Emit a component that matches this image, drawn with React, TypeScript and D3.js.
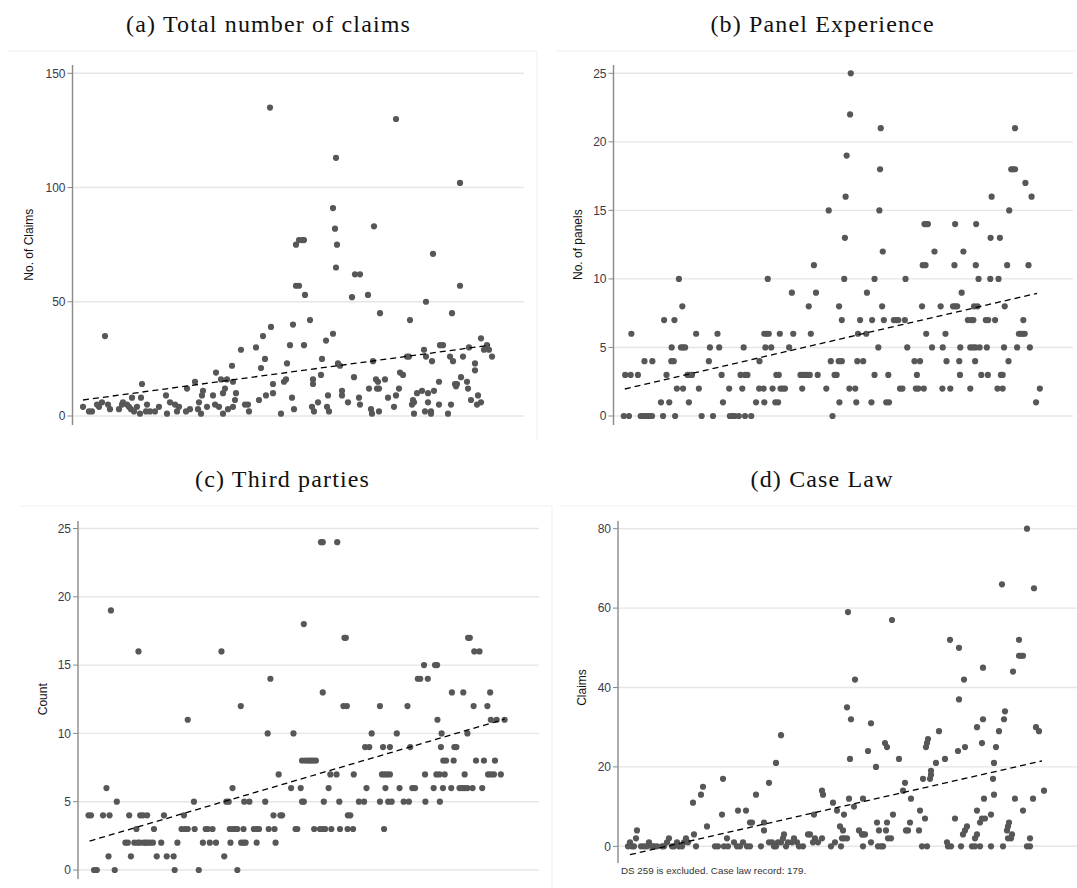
import React from "react";
import * as d3 from "d3";

type Pt = [number, number];

// ---------- (a) Total number of claims ----------
const claimsTicks = [0, 50, 100, 150];
const claimsFit: Pt[] = [[83, 7], [490, 31]];
const claimsPoints: Pt[] = [
  [83,4],[89,2],[92,2],[97,5],[99,4],[102,6],[105,35],[108,5],[110,3],[119,3],[122,5],[123,6],[127,5],[129,4],[131,3],[132,8],[134,2],[137,4],[140,1],[141,8],[142,14],[146,2],[147,5],[150,2],[155,2],[159,4],[166,9],[167,1],[170,6],[175,5],[177,2],[179,4],[186,2],[187,12],[190,3],[195,15],[198,3],[199,6],[201,1],[202,9],[203,11],[207,4],[213,9],[215,5],[216,19],[219,4],[221,16],[223,1],[223,10],[225,12],[227,16],[228,3],[232,22],[233,4],[233,15],[235,7],[236,10],[241,29],[245,5],[248,5],[249,2],[256,30],[259,7],[261,21],[263,35],[265,25],[266,9],[270,135],[271,39],[273,14],[273,10],[281,1],[284,15],[286,16],[287,23],[290,31],[292,8],[293,40],[294,3],[296,75],[296,57],[299,57],[299,77],[302,77],[304,77],[304,31],[305,53],[310,42],[312,4],[313,16],[313,14],[314,2],[318,6],[322,25],[321,18],[326,33],[327,4],[328,9],[329,2],[333,36],[333,91],[335,82],[336,113],[337,75],[336,65],[338,23],[340,22],[342,11],[342,9],[348,6],[352,52],[354,17],[355,62],[360,62],[359,8],[360,5],[368,53],[369,12],[371,3],[372,1],[373,24],[374,83],[376,16],[377,12],[378,15],[379,12],[379,2],[380,45],[385,16],[388,8],[394,4],[396,9],[396,130],[399,12],[400,19],[403,18],[407,26],[409,26],[410,42],[412,5],[413,7],[414,6],[414,1],[417,10],[422,11],[424,29],[426,26],[426,50],[425,2],[428,6],[428,10],[431,2],[431,1],[434,11],[432,24],[433,71],[439,15],[439,5],[440,31],[443,31],[448,1],[450,26],[451,5],[452,45],[453,24],[455,14],[456,13],[457,14],[460,57],[460,102],[461,17],[463,26],[467,15],[468,12],[469,30],[471,7],[475,23],[475,20],[478,9],[477,5],[481,6],[481,34],[484,29],[487,31],[489,29],[492,26]
];

// ---------- (b) Panel Experience ----------
const panelTicks = [0, 5, 10, 15, 20, 25];
const panelFit: Pt[] = [[255, 1.97], [1452, 8.95]];
const panelPoints: Pt[] = [
  [252,0],[267,0],[256,3],[272,3],[274,6],[293,3],[301,0],[308,0],[314,0],[320,0],[327,0],[334,0],[312,4],[335,4],
  [360,1],[366,0],[369,7],[376,3],[384,1],[390,4],[397,4],[391,5],[399,7],[401,0],[406,2],[412,10],[422,8],[418,5],[424,5],[430,5],
  [424,2],[437,3],[443,3],[450,3],[441,1],[462,6],[470,2],[478,0],[499,4],[502,5],[511,0],[524,6],[529,5],[536,3],[540,1],[558,2],
  [560,0],[567,0],[574,0],[586,0],[604,0],[622,0],[591,3],[604,3],[611,3],[596,2],[600,5],[636,1],[646,4],[645,2],[658,2],[660,1],
  [660,6],[667,6],[673,6],[663,5],[670,10],[680,5],[684,2],[692,1],[700,1],[695,3],[702,3],[705,6],[707,2],[714,2],[720,2],
  [732,5],[740,9],[744,6],[765,3],[771,3],[778,3],[785,3],[792,3],[770,2],[789,8],[795,6],[804,11],[810,9],[815,3],
  [840,2],[847,15],[853,4],[858,0],[864,3],[870,3],[876,4],[885,4],[878,1],[877,8],[885,7],[892,10],[894,13],[896,16],[899,19],[909,22],[911,25],
  [907,2],[924,2],[927,1],[930,4],[947,4],[932,6],[938,7],[956,6],[958,9],[971,1],[973,7],[980,10],[980,3],[991,5],
  [994,15],[996,18],[998,21],[1002,8],[1004,12],[1007,7],[1014,1],[1022,1],[1020,3],[1036,7],[1043,7],[1049,7],[1054,2],[1061,2],
  [1068,7],[1070,10],[1075,5],[1096,4],[1112,4],[1103,3],[1100,2],[1107,2],[1118,8],[1123,2],[1120,11],[1128,11],[1125,14],[1130,14],[1135,14],[1130,6],[1147,5],
  [1154,12],[1172,8],[1178,5],[1177,2],[1186,6],[1189,4],[1200,2],[1208,8],[1214,8],[1220,8],[1214,14],[1212,11],[1226,4],[1229,5],[1228,3],[1233,9],[1238,12],
  [1251,7],[1261,7],[1267,7],[1258,2],[1258,5],[1266,5],[1273,5],[1272,4],[1275,14],[1274,11],[1269,8],[1279,8],[1282,10],[1285,5],[1290,3],
  [1303,7],[1310,7],[1306,5],[1309,3],[1317,13],[1316,10],[1320,16],[1330,7],[1337,2],[1352,2],[1340,10],[1344,13],[1347,3],[1352,3],[1356,5],[1358,8],
  [1365,11],[1369,4],[1371,15],[1377,18],[1382,18],[1388,18],[1388,21],[1394,5],[1399,6],[1404,6],[1410,6],[1416,6],[1412,7],[1418,17],
  [1427,11],[1431,5],[1436,16],[1449,1],[1460,2]
];

// ---------- (c) Third parties ----------
const thirdTicks = [0, 5, 10, 15, 20, 25];
const thirdFit: Pt[] = [[263, 2.12], [1468, 11.04]];
const thirdPoints: Pt[] = [
  [260,4],[267,4],[276,0],[284,0],[302,4],[312,6],[318,1],[321,4],[325,19],[336,0],[342,5],
  [367,2],[374,2],[378,4],[383,1],[393,2],[399,3],[403,2],[409,2],[405,16],[410,4],[418,4],[430,4],[420,2],[426,2],[432,2],[440,2],[447,2],[450,3],[458,1],[471,2],[479,4],
  [487,1],[507,1],[510,0],[518,2],[530,3],[537,4],[540,3],[548,3],[548,11],[566,5],[568,3],[580,0],
  [592,2],[600,3],[606,3],[612,2],[620,3],[630,2],[646,16],[654,1],[660,5],[667,5],[672,2],[678,6],[670,3],[678,3],[685,3],[692,3],[692,0],[702,12],[703,2],[710,2],[716,2],[710,3],[712,5],[727,5],[740,3],[748,3],[755,3],[748,2],
  [773,5],[780,10],[783,3],[800,3],[788,14],[797,4],[817,4],[822,4],[803,2],[812,7],
  [848,6],[855,10],[861,3],[866,3],[876,6],[880,5],[885,5],[885,18],[880,8],[890,8],[898,8],[905,8],[912,8],[920,8],
  [915,3],[932,3],[940,3],[947,3],[935,24],[940,24],[940,13],[943,5],[957,6],[965,3],[962,7],[980,7],[982,24],[988,5],[990,3],[1000,12],[1010,12],[1003,17],[1007,17],[1013,4],[1020,4],[1012,3],[1028,3],[1030,7],
  [1045,5],[1060,5],[1067,6],[1063,9],[1075,9],[1082,10],[1106,12],[1106,5],[1115,9],[1135,9],[1112,7],[1120,7],[1127,7],[1135,7],[1118,3],[1122,6],[1130,5],[1140,5],[1155,10],[1163,6],[1175,5],[1190,5],[1186,12],[1194,9],[1200,6],[1208,6],[1216,14],[1223,14],[1245,14],[1234,15],[1237,7],[1238,5],[1262,6],
  [1266,15],[1272,15],[1273,11],[1270,7],[1279,7],[1280,5],[1283,9],[1285,10],[1290,8],[1298,8],[1289,6],[1294,7],[1315,13],[1313,6],[1320,8],[1322,9],[1328,9],[1337,6],[1345,6],[1352,6],[1360,6],[1348,13],[1352,7],[1360,10],[1362,17],[1367,17],[1375,6],[1378,12],[1380,16],[1395,16],[1385,8],[1403,6],[1408,8],[1418,12],[1420,7],[1428,7],[1426,13],[1428,11],[1445,11],[1437,7],[1440,8],[1457,7],[1468,11]
];

// ---------- (d) Case Law ----------
const caseTicks = [0, 20, 40, 60, 80];
const caseFit: Pt[] = [[630, -2.1], [1042, 21.5]];
const casePoints: Pt[] = [
  [628,0],[630,1],[632,0],[634,0],[636,2],[637,4],[641,0],[644,0],[647,0],[649,1],[652,0],[654,0],[657,0],[662,0],[664,0],[667,1],[669,2],[672,0],[674,0],[677,1],[679,0],[682,0],[684,1],[686,2],[688,1],
  [693,11],[694,3],[696,0],[701,13],[703,15],[707,5],[715,0],[718,0],[722,8],[723,17],[724,0],[727,2],[728,0],[734,1],[737,0],[740,0],[738,9],[746,9],[743,1],[747,0],[750,0],[750,6],[752,6],[756,13],[761,0],[764,6],[764,4],
  [769,16],[769,1],[772,1],[774,0],[776,21],[776,0],[778,1],[781,1],[783,2],[784,3],[786,0],[781,28],[788,1],[792,1],[794,2],[797,1],[799,0],[803,0],[808,3],[810,3],[815,2],[813,1],[814,8],[818,1],
  [822,14],[823,13],[822,2],[831,0],[835,1],[841,0],[833,11],[837,9],[840,5],[843,4],[844,8],[842,2],[844,2],[847,2],[847,35],[851,32],[850,22],[849,12],[848,59],[854,10],[855,42],
  [859,4],[862,3],[863,3],[865,3],[863,0],[863,12],[868,24],[871,31],[871,1],[876,20],[877,6],[879,4],[878,0],[881,0],[883,0],[885,26],[887,25],[887,6],[886,4],[888,2],[891,2],[892,57],[893,8],[899,22],
  [903,14],[905,16],[906,4],[908,4],[910,6],[911,12],[919,4],[920,9],[922,0],[927,0],[925,7],[923,17],[926,25],[927,26],[928,27],[930,17],[931,18],[931,19],[936,21],[939,29],[945,22],[947,1],[948,0],[951,0],[950,52],
  [955,7],[958,24],[959,37],[959,50],[961,0],[965,25],[963,3],[965,4],[967,5],[964,42],[972,0],[975,0],[980,0],[975,2],[977,3],[977,30],[983,32],[982,26],[977,9],[980,6],[982,7],[985,7],[984,12],[983,45],
  [991,0],[991,8],[994,13],[993,17],[994,21],[996,25],[999,29],[1002,66],[1003,0],[1004,32],[1005,34],[1007,4],[1008,5],[1009,6],[1008,2],[1011,2],[1012,3],[1013,44],[1015,12],[1019,52],[1019,48],[1021,48],[1023,48],[1023,9],
  [1027,80],[1027,0],[1030,0],[1030,2],[1033,12],[1034,65],[1036,30],[1039,29],[1044,14]
];

const POINT = "#575757";
const GRID = "#e6e6e6";
const AXIS = "#8a8a8a";
const SANS = "'Liberation Sans', Arial, sans-serif";
const SERIF = "'Liberation Serif', 'DejaVu Serif', serif";

type PanelProps = {
  title: string;
  titleX: number;
  titleY: number;
  yLabel: string;
  yLabelX: number;
  points: Pt[];
  fit: Pt[];
  ticks: number[];
  xDomain: [number, number];
  xRange: [number, number];
  yDomain: [number, number];
  yRange: [number, number];
  axisX: number;
  gridEnd: number;
  axisTop: number;
  axisBottom: number;
};

function Panel(p: PanelProps) {
  const x = d3.scaleLinear().domain(p.xDomain).range(p.xRange);
  const y = d3.scaleLinear().domain(p.yDomain).range(p.yRange);
  const line = d3.line<Pt>().x((d) => x(d[0])).y((d) => y(d[1]));
  const yMid = (p.yRange[0] + p.yRange[1]) / 2;
  return (
    <g>
      <text
        x={p.titleX + 0.6}
        y={p.titleY}
        textAnchor="middle"
        fontFamily={SERIF}
        fontSize={24}
        letterSpacing={1.15}
        fill="#111"
      >
        {p.title}
      </text>
      {p.ticks.map((t) => (
        <g key={t}>
          <line x1={p.axisX} x2={p.gridEnd} y1={y(t)} y2={y(t)} stroke={GRID} strokeWidth={1.4} />
          <line x1={p.axisX - 5} x2={p.axisX} y1={y(t)} y2={y(t)} stroke={AXIS} strokeWidth={1} />
          <text x={p.axisX - 7} y={y(t)} dy="0.35em" textAnchor="end" fontFamily={SANS} fontSize={12} fill="#3a3a4a">
            {t}
          </text>
        </g>
      ))}
      <line x1={p.axisX} x2={p.axisX} y1={p.axisTop} y2={p.axisBottom} stroke={AXIS} strokeWidth={1.4} />
      <text
        transform={`translate(${p.yLabelX},${yMid}) rotate(-90)`}
        textAnchor="middle"
        dy="0.35em"
        fontFamily={SANS}
        fontSize={12}
        fill="#111"
      >
        {p.yLabel}
      </text>
      {p.points.map((d, i) => (
        <circle key={i} cx={x(d[0])} cy={y(d[1])} r={3.1} fill={POINT} />
      ))}
      <path d={line(p.fit) || ""} fill="none" stroke="#000" strokeWidth={1.3} strokeDasharray="6 4" />
    </g>
  );
}

export default function App() {
  return (
    <svg
      width={1077}
      height={888}
      style={{ position: "absolute", left: 0, top: 0, background: "#fff" }}
    >
      <rect x={0} y={0} width={1077} height={888} fill="#fff" />
      {/* light panel frames */}
      <line x1={8} x2={537} y1={51} y2={51} stroke="#efefef" />
      <line x1={537} x2={537} y1={51} y2={440} stroke="#efefef" />
      <line x1={556} x2={1077} y1={51} y2={51} stroke="#efefef" />
      <line x1={21} x2={552} y1={506} y2={506} stroke="#efefef" />
      <line x1={552} x2={552} y1={506} y2={888} stroke="#efefef" />
      <line x1={561} x2={1077} y1={506} y2={506} stroke="#efefef" />

      <Panel
        title="(a) Total number of claims"
        titleX={268}
        titleY={32}
        yLabel="No. of Claims"
        yLabelX={29}
        points={claimsPoints}
        fit={claimsFit}
        ticks={claimsTicks}
        xDomain={[0, 1077]}
        xRange={[0, 1077]}
        yDomain={[0, 150]}
        yRange={[416, 73.3]}
        axisX={72.5}
        gridEnd={524}
        axisTop={65}
        axisBottom={425}
      />
      <Panel
        title="(b) Panel Experience"
        titleX={822}
        titleY={32}
        yLabel="No. of panels"
        yLabelX={578}
        points={panelPoints}
        fit={panelFit}
        ticks={panelTicks}
        xDomain={[0, 1560]}
        xRange={[537, 1074.3]}
        yDomain={[0, 25]}
        yRange={[416, 73.3]}
        axisX={613.5}
        gridEnd={1073}
        axisTop={65}
        axisBottom={425}
      />
      <Panel
        title="(c) Third parties"
        titleX={282}
        titleY={487}
        yLabel="Count"
        yLabelX={43}
        points={thirdPoints}
        fit={thirdFit}
        ticks={thirdTicks}
        xDomain={[0, 1560]}
        xRange={[-1, 536.3]}
        yDomain={[0, 25]}
        yRange={[870, 528.5]}
        axisX={78}
        gridEnd={539}
        axisTop={521}
        axisBottom={879}
      />
      <Panel
        title="(d) Case Law"
        titleX={821.5}
        titleY={487}
        yLabel="Claims"
        yLabelX={582}
        points={casePoints}
        fit={caseFit}
        ticks={caseTicks}
        xDomain={[0, 1077]}
        xRange={[0, 1077]}
        yDomain={[0, 80]}
        yRange={[846.3, 528.7]}
        axisX={618}
        gridEnd={1077}
        axisTop={521}
        axisBottom={863}
      />
      <text x={621} y={873.5} fontFamily={SANS} fontSize={9.8} fill="#333">
        DS 259 is excluded. Case law record: 179.
      </text>
    </svg>
  );
}
